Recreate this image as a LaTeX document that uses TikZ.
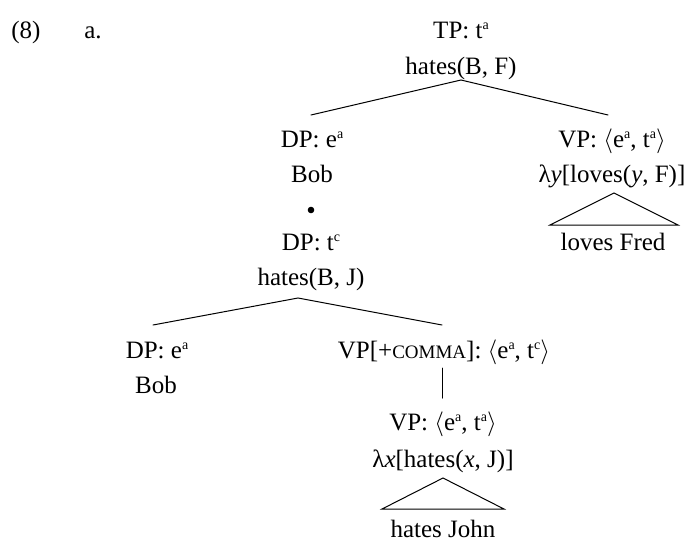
\documentclass[tikz,border=0pt]{standalone}
\usepackage{fontspec}
\setmainfont{Liberation Serif}
\begin{document}
\begin{tikzpicture}[x=1pt,y=-1pt,
  lbl/.style={inner sep=0pt,anchor=base,font=\fontsize{25}{29}\selectfont},
  edge/.style={line width=1pt,line cap=round}]
\useasboundingbox (0,0) rectangle (695,541);
\newcommand{\supx}[1]{\raisebox{0.33em}{\fontsize{14}{14}\selectfont #1}}
\newcommand{\sa}{\supx{a}}
\newcommand{\sct}{\supx{c}}
\newcommand{\la}{$\langle$}
\newcommand{\ra}{$\rangle$}
% labels
\node[lbl] (ex) at (26,38) {(8)};
\node[lbl] (exa) at (93,38) {a.};
\node[lbl] (tp) at (461,38) {TP: t\sa};
\node[lbl] (tpsem) at (461,74) {hates(B, F)};
\node[lbl] (dp1) at (312,147) {DP: e\sa};
\node[lbl] (dp1sem) at (312,182) {Bob};
\node[lbl] (vp1) at (612,147) {VP: \la e\sa, t\sa\ra};
\node[lbl] (vp1sem) at (612,182) {λ\textit{y}[loves(\textit{y}, F)]};
\node[lbl] (vp1term) at (613,250) {loves Fred};
\node[lbl] (dp2) at (311,250) {DP: t\sct};
\node[lbl] (dp2sem) at (311,285) {hates(B, J)};
\node[lbl] (dp3) at (157,358) {DP: e\sa};
\node[lbl] (dp3sem) at (156,393) {Bob};
\node[lbl] (vpc) at (444,358) {VP[+{\fontsize{19}{20}\selectfont COMMA}]: \la e\sa, t\sct\ra};
\node[lbl] (vp2) at (443,430) {VP: \la e\sa, t\sa\ra};
\node[lbl] (vp2sem) at (443,467) {λ\textit{x}[hates(\textit{x}, J)]};
\node[lbl] (vp2term) at (443,537) {hates John};
% bullet
\fill (311,210) circle (3.3);
% edge endpoints
\coordinate (a1) at (461,80);
\coordinate (a1l) at (311,115);
\coordinate (a1r) at (608,115);
\coordinate (a2) at (298,298);
\coordinate (a2l) at (153,325);
\coordinate (a2r) at (442,325);
\coordinate (v1) at (442,368);
\coordinate (v2) at (442,398);
\draw[edge] (a1l) -- (a1) -- (a1r);
\draw[edge] (a2l) -- (a2) -- (a2r);
\draw[edge] (v1) -- (v2);
% triangles
\draw[edge,line join=miter] (550,225) -- (614,193) -- (678,225) -- cycle;
\draw[edge,line join=miter] (382,509) -- (443,478) -- (504,509) -- cycle;
\end{tikzpicture}
\end{document}
